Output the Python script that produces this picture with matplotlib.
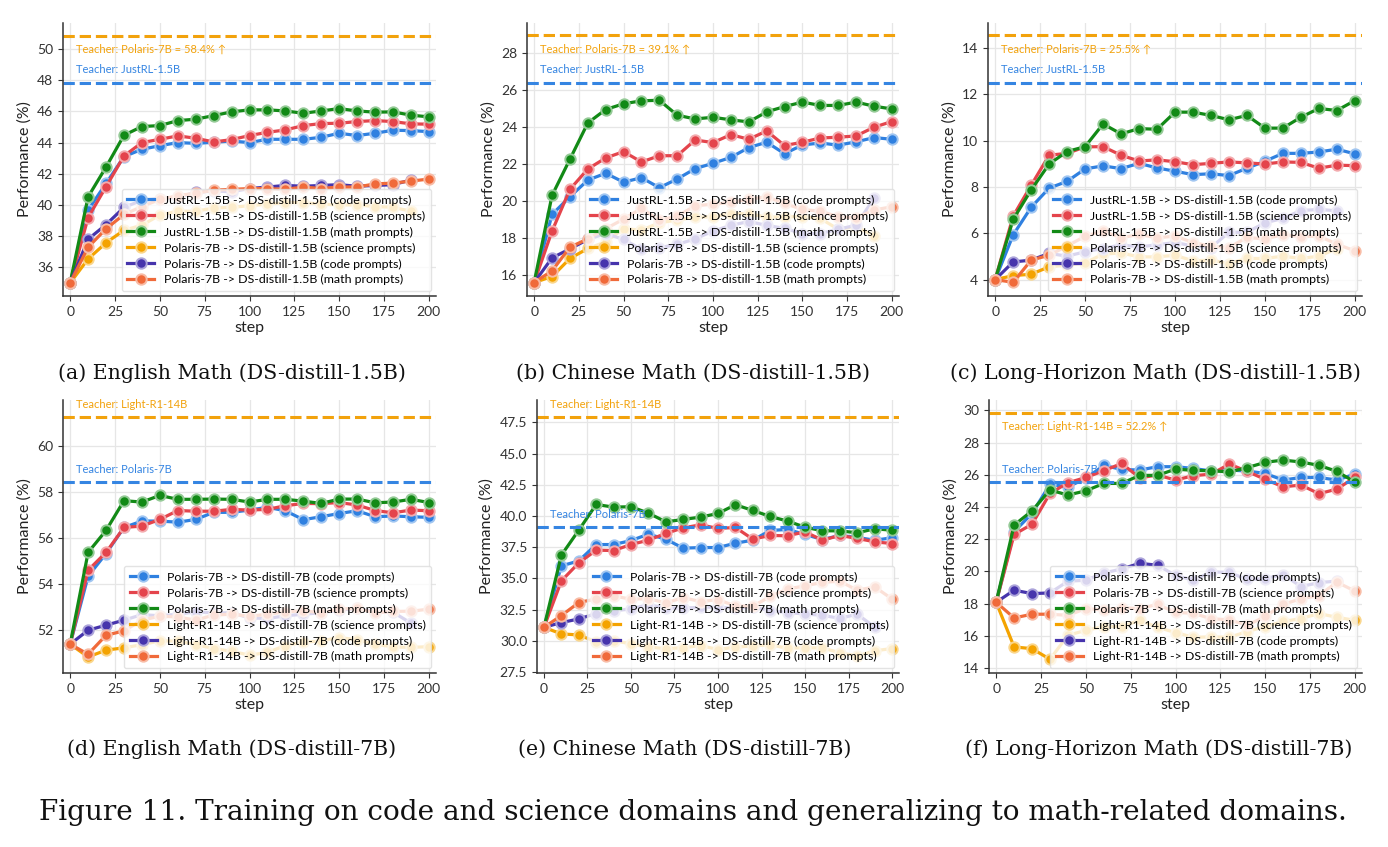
import numpy as np
import matplotlib
matplotlib.use("Agg")
import matplotlib.pyplot as plt
from matplotlib.colors import to_rgb

plt.rcParams['font.family'] = ['Lato', 'DejaVu Sans']

steps = list(range(0, 210, 10))
xticks = [0, 25, 50, 75, 100, 125, 150, 175, 200]

# (a) English Math, DS-distill-1.5B
a_code = [35.0, 39.67, 41.38, 43.1, 43.57, 43.8, 44.0, 43.95, 44.02, 44.1, 44.0, 44.21, 44.21, 44.21, 44.34, 44.6, 44.45, 44.6, 44.79, 44.77, 44.7]
a_sci = [35.0, 39.19, 41.17, 43.14, 44.0, 44.21, 44.43, 44.28, 44.04, 44.19, 44.45, 44.66, 44.81, 45.09, 45.22, 45.24, 45.35, 45.41, 45.35, 45.2, 45.18]
a_math = [35.0, 40.52, 42.43, 44.47, 45.03, 45.09, 45.41, 45.5, 45.73, 45.97, 46.1, 46.1, 46.03, 45.88, 46.03, 46.18, 46.03, 45.95, 45.97, 45.76, 45.65]
a_sci2 = [35.0, 36.54, 37.57, 38.38, 38.7, 39.35, 39.6, 39.6, 39.8, 39.85, 39.95, 40.05, 40.15, 40.15, 40.05, 40.0, 40.0, 39.9, 39.85, 39.6]
a_code2 = [35.0, 37.8, 38.74, 39.84, 40.3, 40.4, 40.5, 40.8, 40.9, 40.85, 41.05, 41.15, 41.25, 41.2, 41.25, 41.3, 41.2, 41.25, 41.3, 41.6]
a_math2 = [35.0, 37.29, 38.47, 39.39, 39.9, 40.35, 40.6, 40.75, 40.95, 41.0, 41.05, 41.05, 41.0, 41.15, 41.05, 41.15, 41.15, 41.35, 41.4, 41.53, 41.66]

# (b) Chinese Math, DS-distill-1.5B
b_code = [15.57, 19.25, 20.21, 21.11, 21.48, 21.0, 21.24, 20.7, 21.17, 21.73, 22.02, 22.34, 22.87, 23.16, 22.54, 23.01, 23.12, 23.0, 23.18, 23.41, 23.32]
b_sci = [15.57, 18.35, 20.61, 21.71, 22.31, 22.65, 22.09, 22.43, 22.43, 23.28, 23.14, 23.57, 23.32, 23.77, 22.98, 23.16, 23.39, 23.43, 23.5, 23.97, 24.28]
b_math = [15.57, 20.28, 22.24, 24.2, 24.93, 25.24, 25.4, 25.43, 24.62, 24.42, 24.51, 24.37, 24.26, 24.8, 25.09, 25.33, 25.15, 25.15, 25.33, 25.11, 24.96]
b_sci2 = [15.57, 15.89, 16.87, 17.41, 17.77, 18.49, 18.4, 18.8, 18.95, 19.1, 19.13, 19.3, 19.3, 19.1, 19.13, 19.13, 19.04, 18.45, 18.6, 18.1]
b_code2 = [15.57, 16.9, 17.39, 17.9, 18.22, 17.9, 17.36, 17.45, 17.63, 17.93, 18.35, 18.66, 18.87, 18.66, 18.5, 18.22, 18.22, 18.45, 18.67, 20.12]
b_math2 = [15.57, 16.2, 17.48, 17.93, 18.48, 19.0, 19.58, 18.95, 19.16, 19.72, 19.81, 19.9, 20.07, 20.21, 19.85, 19.52, 19.43, 19.13, 19.07, 19.49, 19.67]

# (c) Long-Horizon Math, DS-distill-1.5B
c_code = [4.0, 5.93, 7.12, 7.95, 8.24, 8.78, 8.91, 8.79, 9.02, 8.82, 8.68, 8.53, 8.57, 8.49, 8.81, 9.11, 9.45, 9.45, 9.51, 9.63, 9.43]
c_sci = [4.0, 6.74, 8.07, 9.37, 9.45, 9.73, 9.74, 9.37, 9.12, 9.17, 9.09, 8.96, 9.02, 9.08, 9.04, 8.99, 9.08, 9.06, 8.81, 8.94, 8.92]
c_math = [4.0, 6.6, 7.87, 8.99, 9.53, 9.74, 10.72, 10.29, 10.52, 10.49, 11.23, 11.23, 11.09, 10.9, 11.09, 10.54, 10.54, 11.01, 11.39, 11.3, 11.73]
c_sci2 = [4.0, 4.17, 4.23, 4.55, 4.62, 4.72, 5.1, 5.15, 4.98, 4.98, 5.05, 4.81, 4.84, 4.69, 4.91, 4.91, 5.01, 4.91, 5.01, 5.34]
c_code2 = [4.0, 4.76, 4.84, 5.13, 5.01, 5.2, 5.34, 5.5, 5.41, 5.5, 5.6, 5.45, 5.38, 6.04, 6.04, 6.45, 6.64, 6.98, 7.03, 6.97]
c_math2 = [4.0, 3.88, 4.84, 5.05, 5.45, 5.87, 6.1, 5.8, 5.95, 5.8, 5.88, 5.6, 5.44, 5.38, 5.82, 5.75, 5.94, 5.85, 5.88, 5.53, 5.24]

# (d) English Math, DS-distill-7B
d_code = [51.36, 54.33, 55.32, 56.46, 56.74, 56.74, 56.69, 56.81, 57.12, 57.12, 57.22, 57.34, 57.19, 56.8, 56.93, 57.07, 57.19, 56.93, 56.96, 56.93, 56.9]
d_sci = [51.36, 54.59, 55.37, 56.46, 56.52, 56.81, 57.2, 57.17, 57.17, 57.25, 57.22, 57.25, 57.41, 57.51, 57.5, 57.55, 57.44, 57.2, 57.1, 57.22, 57.19]
d_math = [51.36, 55.37, 56.33, 57.63, 57.57, 57.86, 57.69, 57.69, 57.7, 57.69, 57.57, 57.69, 57.69, 57.61, 57.51, 57.7, 57.7, 57.54, 57.57, 57.69, 57.55]
d_sci2 = [51.36, 50.8, 51.1, 51.2, 51.34, 51.5, 51.5, 51.34, 51.17, 51.05, 50.88, 51.0, 51.3, 51.45, 51.5, 51.65, 51.55, 51.36, 51.24, 51.22, 51.25]
d_code2 = [51.36, 51.97, 52.19, 52.41, 52.65, 52.6, 52.67, 52.77, 52.73, 52.73, 52.51, 52.48, 52.6, 52.67, 52.73, 52.85, 52.92, 52.77, 52.76, 52.28]
d_math2 = [51.36, 50.92, 51.75, 51.94, 52.41, 52.58, 52.55, 52.41, 52.63, 52.67, 52.58, 52.67, 52.77, 52.82, 52.73, 52.9, 52.92, 52.73, 52.79, 52.8, 52.89]

# (e) Chinese Math, DS-distill-7B
e_code = [31.08, 36.0, 36.4, 37.71, 37.71, 38.03, 38.54, 38.14, 37.42, 37.47, 37.47, 37.82, 38.06, 38.84, 38.92, 38.52, 38.11, 38.44, 38.28, 38.06, 38.25]
e_sci = [31.08, 34.8, 36.24, 37.26, 37.23, 37.71, 38.06, 38.6, 39.05, 39.29, 39.0, 39.08, 38.14, 38.44, 38.41, 38.73, 38.06, 38.44, 38.2, 37.93, 37.79]
e_math = [31.08, 36.86, 38.86, 40.92, 40.71, 40.74, 40.23, 39.53, 39.72, 39.91, 40.2, 40.9, 40.44, 39.96, 39.59, 39.1, 38.81, 38.81, 38.65, 38.97, 38.86]
e_sci2 = [31.08, 30.55, 30.47, 29.92, 30.0, 29.76, 29.5, 29.37, 29.45, 29.62, 29.3, 29.5, 29.58, 29.68, 29.4, 29.45, 29.42, 29.05, 28.78, 29.2, 29.38]
e_code2 = [31.08, 31.46, 31.75, 32.18, 32.4, 32.55, 32.9, 32.62, 32.62, 32.68, 32.7, 32.6, 32.71, 32.42, 32.26, 32.15, 32.04, 31.8, 32.13, 31.1]
e_math2 = [31.08, 32.02, 33.06, 33.36, 33.6, 33.33, 33.38, 33.03, 33.46, 33.14, 33.3, 32.79, 32.77, 33.55, 34.15, 34.4, 34.68, 34.78, 34.05, 34.32, 33.35]

# (f) Long-Horizon Math, DS-distill-7B
f_code = [18.08, 22.46, 23.6, 25.4, 25.25, 25.77, 26.58, 26.33, 26.29, 26.5, 26.5, 26.39, 26.23, 26.29, 26.23, 26.08, 25.67, 25.83, 25.83, 25.67, 26.04]
f_sci = [18.08, 22.29, 22.93, 24.84, 25.5, 25.83, 26.25, 26.7, 25.81, 25.98, 25.67, 25.94, 26.04, 26.66, 26.21, 25.71, 25.25, 25.36, 24.82, 25.11, 25.83]
f_math = [18.08, 22.87, 23.76, 25.05, 24.74, 25.0, 25.46, 25.46, 25.96, 25.96, 26.35, 26.27, 26.25, 26.17, 26.44, 26.77, 26.91, 26.79, 26.58, 26.21, 25.54]
f_sci2 = [18.08, 15.31, 15.2, 14.54, 16.03, 16.34, 16.57, 16.57, 16.96, 16.53, 16.2, 15.91, 15.93, 15.91, 16.26, 16.57, 16.89, 17.07, 17.38, 17.15, 16.96]
f_code2 = [18.08, 18.83, 18.62, 18.66, 19.39, 19.45, 19.9, 20.15, 20.5, 20.38, 19.75, 19.45, 19.97, 19.93, 19.5, 19.55, 19.8, 19.06, 19.3, 19.4]
f_math2 = [18.08, 17.11, 17.34, 17.34, 17.27, 17.69, 17.6, 17.75, 17.69, 17.95, 17.45, 17.4, 17.05, 17.0, 16.65, 17.2, 17.95, 18.3, 18.5, 19.33, 18.78]

# teacher reference lines: (top, lower) per panel
teach_hi = [50.85, 28.94, 14.55, 61.27, 47.9, 29.85]
teach_lo = [47.82, 26.37, 12.5, 58.43, 39.1, 25.52]

top_labels = ['JustRL-1.5B -> DS-distill-1.5B (code prompts)',
              'JustRL-1.5B -> DS-distill-1.5B (science prompts)',
              'JustRL-1.5B -> DS-distill-1.5B (math prompts)',
              'Polaris-7B -> DS-distill-1.5B (science prompts)',
              'Polaris-7B -> DS-distill-1.5B (code prompts)',
              'Polaris-7B -> DS-distill-1.5B (math prompts)']
bot_labels = ['Polaris-7B -> DS-distill-7B (code prompts)',
              'Polaris-7B -> DS-distill-7B (science prompts)',
              'Polaris-7B -> DS-distill-7B (math prompts)',
              'Light-R1-14B -> DS-distill-7B (science prompts)',
              'Light-R1-14B -> DS-distill-7B (code prompts)',
              'Light-R1-14B -> DS-distill-7B (math prompts)']

captions = ['(a) English Math (DS-distill-1.5B)', '(b) Chinese Math (DS-distill-1.5B)',
            '(c) Long-Horizon Math (DS-distill-1.5B)', '(d) English Math (DS-distill-7B)',
            '(e) Chinese Math (DS-distill-7B)', '(f) Long-Horizon Math (DS-distill-7B)']

teach_hi_text = ['Teacher: Polaris-7B = 58.4% ↑', 'Teacher: Polaris-7B = 39.1% ↑',
                 'Teacher: Polaris-7B = 25.5% ↑', 'Teacher: Light-R1-14B',
                 'Teacher: Light-R1-14B', 'Teacher: Light-R1-14B = 52.2% ↑']
teach_lo_text = ['Teacher: JustRL-1.5B'] * 3 + ['Teacher: Polaris-7B'] * 3

colors = ['#2f80e0', '#e4444c', '#128a16', '#f4a300', '#4634ac', '#f06a3a']
c_thi = '#f2a20c'
c_tlo = '#3585e2'

panels = [
    (a_code, a_sci, a_math, a_sci2, a_code2, a_math2),
    (b_code, b_sci, b_math, b_sci2, b_code2, b_math2),
    (c_code, c_sci, c_math, c_sci2, c_code2, c_math2),
    (d_code, d_sci, d_math, d_sci2, d_code2, d_math2),
    (e_code, e_sci, e_math, e_sci2, e_code2, e_math2),
    (f_code, f_sci, f_math, f_sci2, f_code2, f_math2),
]

# layout in pixels (left, right, top, bottom) for a 1388x847 canvas
W, H = 1388, 847
boxes = [(63, 436, 23, 296), (527, 899, 23, 296), (988, 1362, 23, 296),
         (63, 436, 400, 673), (537, 899, 400, 673), (989, 1362, 400, 673)]
ylims = [(34.16, 51.67), (14.84, 29.61), (3.29, 15.08), (50.1, 62.03), (27.42, 49.29), (13.69, 30.64)]
yticks = [np.arange(36, 51, 2), np.arange(16, 29, 2), np.arange(4, 15, 2),
          np.arange(52, 61, 2), np.arange(27.5, 48, 2.5), np.arange(14, 31, 2)]
hi_below = [True, True, True, False, False, True]
cap_pos = [(232, 373), (693, 373), (1155, 373), (232, 749), (685, 749), (1159, 749)]


def lighter(c, f=0.5):
    r, g, b = to_rgb(c)
    return (r + (1 - r) * f, g + (1 - g) * f, b + (1 - b) * f)


fig = plt.figure(figsize=(W / 100, H / 100), dpi=100)

for i, series in enumerate(panels):
    l, r, t, b = boxes[i]
    ax = fig.add_axes([l / W, 1 - b / H, (r - l) / W, (b - t) / H])
    labels = top_labels if i < 3 else bot_labels
    for vals, lab, col in zip(series, labels, colors):
        ax.plot(steps[:len(vals)], vals, '-', color=col, lw=2.3, marker='o', ms=7.5,
                mfc=col, mec=lighter(col, 0.55), mew=1.4, label=lab)
    ax.axhline(teach_hi[i], color=c_thi, ls='--', lw=2.2)
    ax.axhline(teach_lo[i], color=c_tlo, ls='--', lw=2.2)
    off_hi = (0, -10) if hi_below[i] else (0, 9.5)
    ax.annotate(teach_hi_text[i], (0.035, teach_hi[i]), xycoords=('axes fraction', 'data'),
                xytext=off_hi, textcoords='offset points', color=c_thi, fontsize=8,
                va='center', ha='left')
    ax.annotate(teach_lo_text[i], (0.035, teach_lo[i]), xycoords=('axes fraction', 'data'),
                xytext=(0, 9.5), textcoords='offset points', color=c_tlo, fontsize=8,
                va='center', ha='left')
    ax.set_xlim(-4, 204)
    ax.set_ylim(*ylims[i])
    ax.set_xticks(xticks)
    ax.set_yticks(yticks[i])
    if i == 4:
        ax.set_yticklabels(['%.1f' % v for v in yticks[i]])
    ax.grid(True, color='#e6e6e6', lw=0.9)
    ax.set_axisbelow(True)
    for s in ['top', 'right']:
        ax.spines[s].set_visible(False)
    for s in ['left', 'bottom']:
        ax.spines[s].set_color('#333333')
        ax.spines[s].set_linewidth(1.1)
    ax.tick_params(labelsize=10, colors='#333333', length=3.5)
    ax.set_xlabel('step', fontsize=11.5, color='#222222', labelpad=2)
    ax.set_ylabel('Performance (%)', fontsize=11.5, color='#222222', labelpad=4)
    ax.legend(loc='lower right', fontsize=8.9, framealpha=0.8, edgecolor='#dddddd',
              handlelength=2.2, borderpad=0.45, labelspacing=0.4, borderaxespad=0.4)
    cx, cy = cap_pos[i]
    fig.text(cx / W, 1 - cy / H, captions[i], ha='center', va='center',
             family='DejaVu Serif', fontsize=14.8, color='#111111')

fig.text(693 / W, 1 - 812 / H,
         'Figure 11. Training on code and science domains and generalizing to math-related domains.',
         ha='center', va='center', family='DejaVu Serif', fontsize=20.1, color='#111111')

fig.savefig('out.png', dpi=100)
